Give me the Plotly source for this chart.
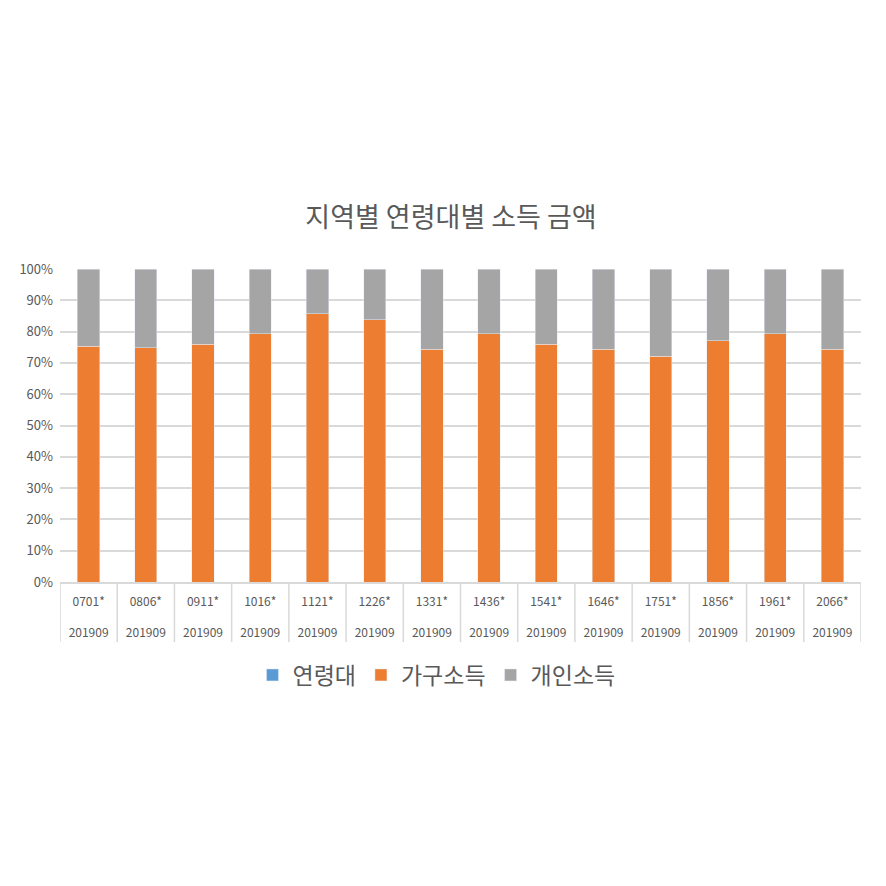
import plotly.graph_objects as go

codes = ['0701*', '0806*', '0911*', '1016*', '1121*', '1226*', '1331*',
         '1436*', '1541*', '1646*', '1751*', '1856*', '1961*', '2066*']
period = ['201909'] * 14

# share of each series (percent)
age_band = [0] * 14
household = [75.4, 74.8, 75.9, 79.3, 85.7, 83.8, 74.3,
             79.3, 75.9, 74.3, 72.1, 77.1, 79.3, 74.3]
personal = [100 - v for v in household]

font_family = 'Noto Sans CJK KR, Malgun Gothic, sans-serif'
text_color = '#595959'
grid_color = '#d9d9d9'

xpos = list(range(len(codes)))
ticktext = ['{}<br><br>{}'.format(c, p) for c, p in zip(codes, period)]

fig = go.Figure()
fig.add_trace(go.Bar(x=xpos, y=age_band, name='연령대', marker_color='#5B9BD5'))
fig.add_trace(go.Bar(x=xpos, y=household, name='가구소득', marker_color='#ED7D31'))
fig.add_trace(go.Bar(x=xpos, y=personal, name='개인소득', marker_color='#A5A5A5'))

# table-like dividers under the category axis
shapes = []
for i in range(len(codes) + 1):
    shapes.append(dict(type='line', xref='x', yref='paper',
                       x0=i - 0.5, x1=i - 0.5, y0=0, y1=-0.192,
                       line=dict(color=grid_color, width=1.5)))

fig.update_layout(
    barmode='stack',
    bargap=0.61,
    width=886, height=886,
    autosize=False,
    margin=dict(l=52, r=33, t=261, b=312, autoexpand=False),
    paper_bgcolor='white',
    plot_bgcolor='white',
    font=dict(family=font_family, color=text_color, size=12),
    title=dict(text='지역별 연령대별 소득 금액', x=0.5, xanchor='center',
               y=1 - 210 / 886, yref='container', yanchor='middle',
               font=dict(size=27, color=text_color)),
    legend=dict(orientation='h', x=0.47, xanchor='center', y=-0.297,
                yanchor='middle', font=dict(size=23, color=text_color),
                traceorder='normal', itemwidth=30),
    shapes=shapes,
    xaxis=dict(
        tickmode='array', tickvals=xpos, ticktext=ticktext,
        range=[-0.5, len(codes) - 0.5],
        showgrid=False, showline=True, linecolor=grid_color, linewidth=1.5,
        ticks='', ticklabelstandoff=8,
        tickfont=dict(size=12, color=text_color),
    ),
    yaxis=dict(
        range=[0, 100], dtick=10, ticksuffix='%',
        showgrid=True, gridcolor=grid_color, gridwidth=1.5,
        zeroline=False, showline=False, ticklabelstandoff=6,
        tickfont=dict(size=13, color=text_color),
    ),
)

fig.write_html('out.html')
